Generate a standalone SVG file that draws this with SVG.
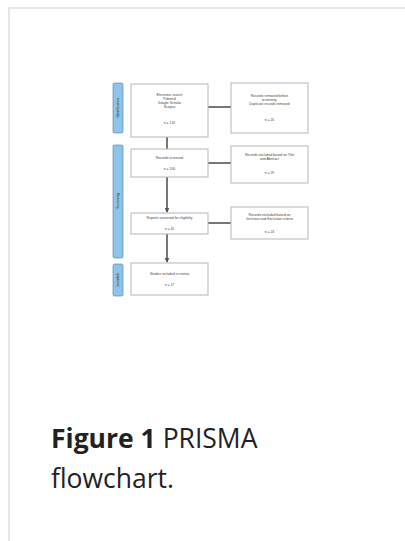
<svg xmlns="http://www.w3.org/2000/svg" width="405" height="541" viewBox="0 0 405 541">
<defs>
<style>
.frame{fill:none;stroke:#e6e6e6;stroke-width:2}
.box{fill:#fff;stroke:#b5b5b5;stroke-width:1}
.side{fill:#8ec4ea;stroke:#4a7fa8;stroke-width:0.6}
.t{font-family:"Liberation Sans",Arial,sans-serif;font-size:3.4px;fill:#444;text-anchor:middle}
.st{font-family:"Liberation Sans",Arial,sans-serif;font-size:3.4px;fill:#333;text-anchor:middle}
.c{stroke:#555;stroke-width:1.6;fill:none}
.cap{font-family:"Open Sans","Noto Sans",sans-serif;font-size:26.5px;fill:#222}
</style>
<marker id="ah" viewBox="0 0 6 6" refX="5" refY="3" markerWidth="3" markerHeight="3" orient="auto">
<path d="M0,0 L6,3 L0,6 z" fill="#555"/>
</marker>
</defs>
<rect width="405" height="541" fill="#fff"/>
<path class="frame" d="M9,541 V8 H405"/>

<g id="connectors">
<line class="c" x1="208" y1="107" x2="231" y2="107"/>
<line class="c" x1="167" y1="137" x2="167" y2="149"/>
<line class="c" x1="208" y1="163" x2="231" y2="163"/>
<line class="c" x1="167" y1="177" x2="167" y2="212" marker-end="url(#ah)"/>
<line class="c" x1="208" y1="223" x2="231" y2="223"/>
<line class="c" x1="167" y1="234" x2="167" y2="262" marker-end="url(#ah)"/>
</g>

<g id="label-identification">
<rect class="side" x="113" y="83" width="10" height="50" rx="1.5"/>
<text class="st" transform="translate(119.2,108) rotate(-90)">Identification</text>
</g>
<g id="label-screening">
<rect class="side" x="113" y="145" width="10" height="113" rx="1.5"/>
<text class="st" transform="translate(119.2,201) rotate(-90)">Screening</text>
</g>
<g id="label-included">
<rect class="side" x="113" y="264" width="10" height="32" rx="1.5"/>
<text class="st" transform="translate(119.2,280) rotate(-90)">Included</text>
</g>

<g id="box-search">
<rect class="box" x="131" y="84" width="77" height="53"/>
<text class="t" x="169.5" y="96">Electronic search</text>
<text class="t" x="169.5" y="100">Pubmed</text>
<text class="t" x="169.5" y="104">Google Scholar</text>
<text class="t" x="169.5" y="108">Scopus</text>
<text class="t" x="169.5" y="124">n = 120</text>
</g>
<g id="box-removed">
<rect class="box" x="231" y="83" width="77" height="50"/>
<text class="t" x="269.5" y="97">Records removed before</text>
<text class="t" x="269.5" y="101">screening:</text>
<text class="t" x="269.5" y="105">Duplicate records removed</text>
<text class="t" x="269.5" y="121">n = 20</text>
</g>
<g id="box-screened">
<rect class="box" x="131" y="149" width="77" height="28"/>
<text class="t" x="169.5" y="159">Records screened</text>
<text class="t" x="169.5" y="170">n = 100</text>
</g>
<g id="box-excluded-title">
<rect class="box" x="231" y="146" width="77" height="37"/>
<text class="t" x="269.5" y="156">Records excluded based on Title</text>
<text class="t" x="269.5" y="160">and Abstract</text>
<text class="t" x="269.5" y="174">n = 59</text>
</g>
<g id="box-assessed">
<rect class="box" x="131" y="213" width="77" height="21"/>
<text class="t" x="169.5" y="219">Reports assessed for eligibility</text>
<text class="t" x="169.5" y="230">n = 41</text>
</g>
<g id="box-excluded-criteria">
<rect class="box" x="231" y="207" width="77" height="32"/>
<text class="t" x="269.5" y="216">Records excluded based on</text>
<text class="t" x="269.5" y="220">Inclusion and Exclusion criteria</text>
<text class="t" x="269.5" y="233">n = 24</text>
</g>
<g id="box-included">
<rect class="box" x="131" y="263" width="77" height="32"/>
<text class="t" x="169.5" y="275">Studies included in review</text>
<text class="t" x="169.5" y="286">n = 17</text>
</g>

<text class="cap" x="51" y="448"><tspan font-weight="bold">Figure 1</tspan> PRISMA</text>
<text class="cap" x="51" y="488">flowchart.</text>
</svg>
